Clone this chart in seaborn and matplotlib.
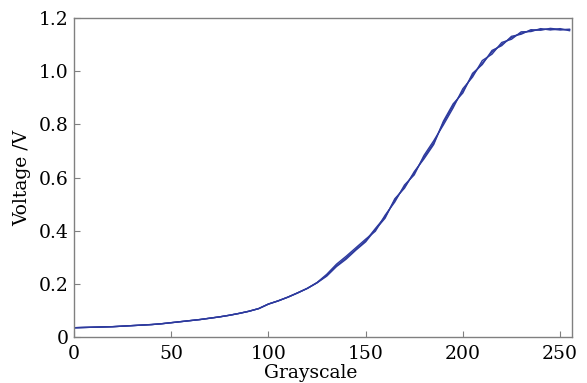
# Grayscale vs. voltage curve (several repeated measurements)
import numpy as np
import pandas as pd
import matplotlib
matplotlib.use("Agg")
import matplotlib.pyplot as plt
import seaborn as sns
from matplotlib.ticker import FuncFormatter

# grayscale levels sampled
grayscale = list(range(0, 256, 5))

run_1 = [0.035, 0.036, 0.037, 0.038, 0.039, 0.041, 0.043, 0.045, 0.047, 0.050,
         0.054, 0.058, 0.062, 0.066, 0.071, 0.076, 0.082, 0.089, 0.097, 0.107,
         0.124, 0.136, 0.150, 0.166, 0.183, 0.204, 0.232, 0.268, 0.298, 0.330,
         0.362, 0.408, 0.452, 0.515, 0.565, 0.617, 0.676, 0.730, 0.806, 0.870,
         0.925, 0.985, 1.030, 1.072, 1.101, 1.126, 1.143, 1.152, 1.157, 1.158,
         1.155, 1.158]
run_2 = [0.035, 0.036, 0.037, 0.038, 0.039, 0.041, 0.043, 0.045, 0.047, 0.050,
         0.054, 0.058, 0.062, 0.066, 0.071, 0.076, 0.082, 0.089, 0.097, 0.107,
         0.124, 0.136, 0.150, 0.166, 0.183, 0.205, 0.236, 0.274, 0.304, 0.336,
         0.368, 0.398, 0.458, 0.508, 0.572, 0.610, 0.683, 0.738, 0.798, 0.862,
         0.934, 0.978, 1.040, 1.064, 1.108, 1.120, 1.148, 1.149, 1.160, 1.155,
         1.160, 1.152]
run_3 = [0.035, 0.036, 0.037, 0.038, 0.039, 0.041, 0.043, 0.045, 0.047, 0.050,
         0.054, 0.058, 0.062, 0.066, 0.071, 0.076, 0.082, 0.089, 0.097, 0.107,
         0.124, 0.136, 0.150, 0.166, 0.183, 0.204, 0.229, 0.265, 0.293, 0.327,
         0.358, 0.404, 0.447, 0.520, 0.560, 0.622, 0.670, 0.724, 0.812, 0.877,
         0.918, 0.992, 1.025, 1.078, 1.096, 1.131, 1.139, 1.156, 1.154, 1.161,
         1.157, 1.156]

runs = {"run 1": run_1, "run 2": run_2, "run 3": run_3}
df = pd.concat([pd.DataFrame({"Grayscale": grayscale, "Voltage": v, "run": k})
                for k, v in runs.items()], ignore_index=True)

sns.set_style("ticks")
plt.rcParams['font.family'] = ['DejaVu Serif']
plt.rcParams['text.color'] = 'black'
plt.rcParams['axes.labelcolor'] = 'black'
plt.rcParams['xtick.labelcolor'] = 'black'
plt.rcParams['ytick.labelcolor'] = 'black'

fig = plt.figure(figsize=(5.87, 3.83), dpi=100)
ax = fig.add_axes([0.126, 0.120, 0.848, 0.833])

sns.lineplot(data=df, x="Grayscale", y="Voltage", units="run", estimator=None,
             color="#2d3a9e", linewidth=1.0, ax=ax)

ax.set_xlim(0, 256)
ax.set_ylim(0, 1.2)
ax.set_xticks([0, 50, 100, 150, 200, 250])
ax.set_yticks([0, 0.2, 0.4, 0.6, 0.8, 1.0, 1.2])
ax.yaxis.set_major_formatter(FuncFormatter(lambda v, p: "0" if v == 0 else f"{v:.1f}"))
ax.tick_params(direction="in", length=4, width=0.8, color="#808080",
               labelsize=13.5, labelcolor="black")
ax.tick_params(axis="x", pad=6)
ax.tick_params(axis="y", pad=4)
for s in ax.spines.values():
    s.set_color("#808080")
    s.set_linewidth(1.0)

ax.set_xlabel("Grayscale", fontsize=13.5, color="black")
ax.set_ylabel("Voltage /V", fontsize=13.5, color="black")
ax.xaxis.set_label_coords(0.475, -0.085)
ax.yaxis.set_label_coords(-0.085, 0.5)

fig.savefig("out.png", dpi=100)
